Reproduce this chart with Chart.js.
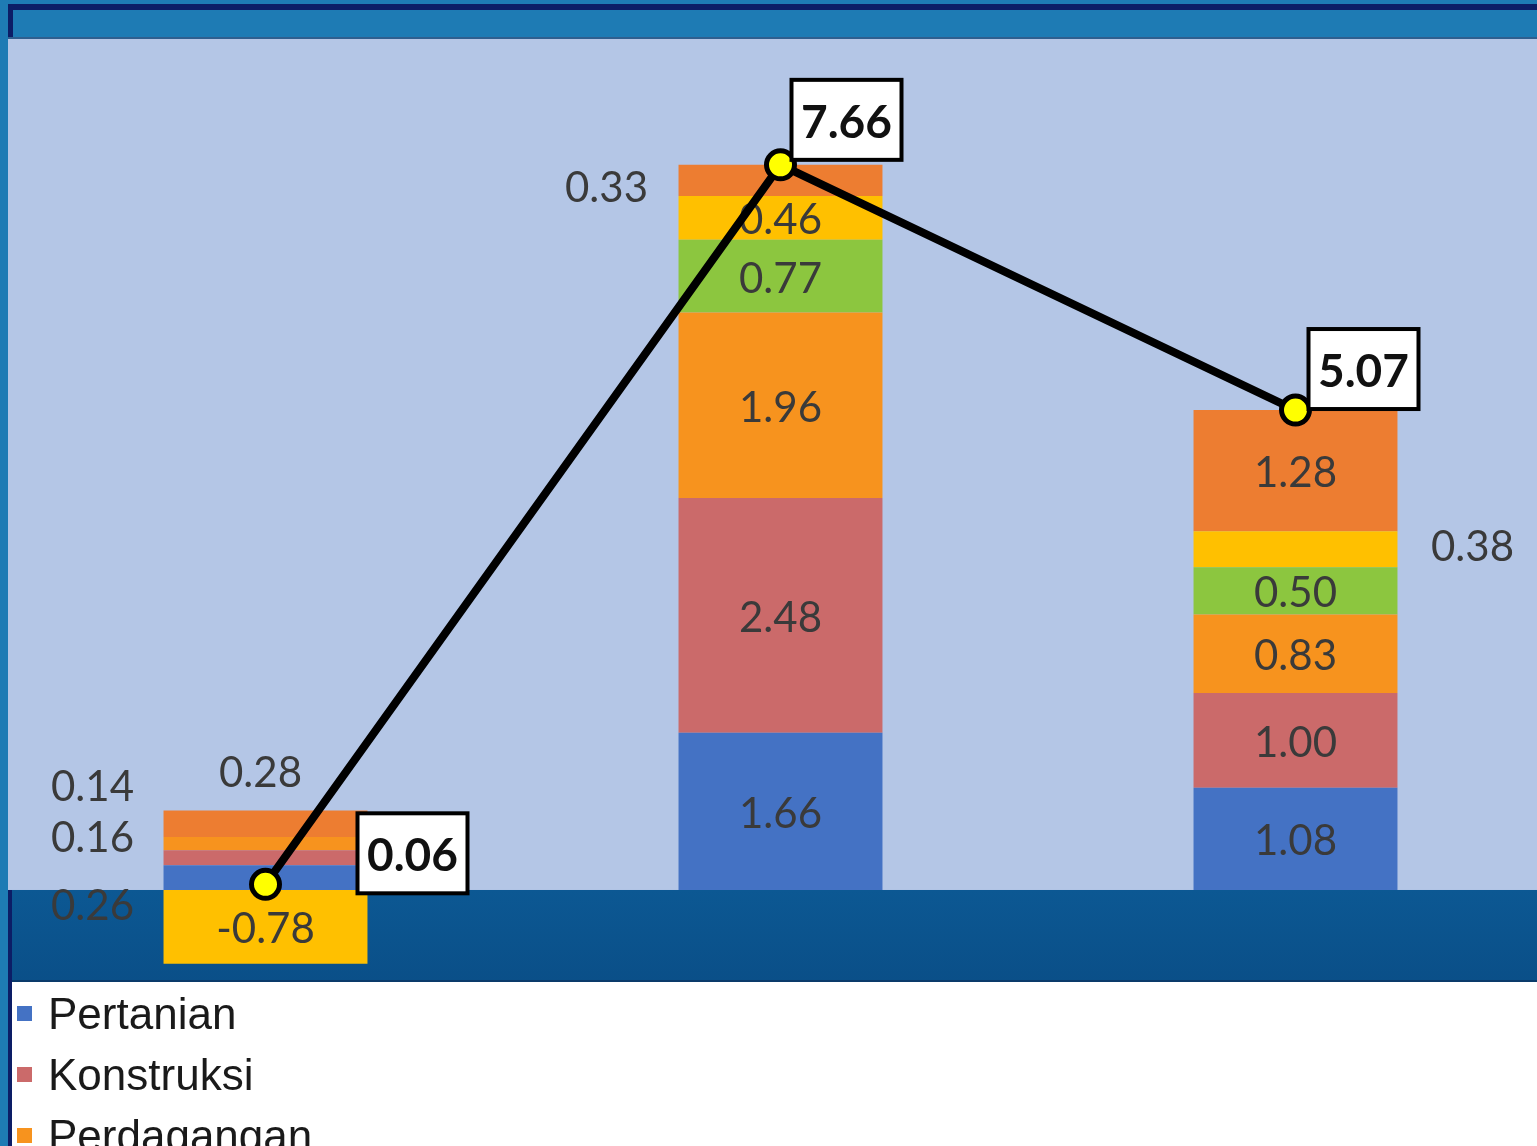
<!DOCTYPE html>
<html>
<head>
<meta charset="utf-8">
<script src="https://cdn.jsdelivr.net/npm/chart.js@4"></script>
<style>
  html, body { margin: 0; padding: 0; width: 1537px; height: 1146px; overflow: hidden; background: #ffffff; }
  #wrap { position: absolute; left: 0; top: 0; width: 1560px; height: 1146px; }
  canvas { position: absolute; left: 0; top: 0; }
  .frame { position: absolute; z-index: 2; }
  #legend { position: absolute; left: 17px; top: 983px; z-index: 3; font-family: "Liberation Sans", Arial, sans-serif; font-size: 44px; color: #1a1a1a; }
  #legend .item { height: 61px; display: flex; align-items: center; }
  #legend .sw { width: 15px; height: 15px; margin-right: 16px; }
</style>
</head>
<body>
<div id="wrap"><canvas id="c" width="1560" height="1146"></canvas></div>
<div class="frame" style="left:0;top:0;width:8px;height:1146px;background:#1e7bb4"></div>
<div class="frame" style="left:8px;top:0;width:1560px;height:38px;background:#1e7bb4"></div>
<div class="frame" style="left:8px;top:4px;width:1560px;height:6px;background:#0c1d66"></div>
<div class="frame" style="left:8px;top:4px;width:5px;height:34px;background:#0c1d66"></div>
<div class="frame" style="left:8px;top:37px;width:1560px;height:2px;background:#2f5f8f"></div>
<div class="frame" style="left:8px;top:890px;width:4px;height:256px;background:#0c1d66"></div>
<div id="legend"></div>
<script>
const categories = ["I", "II", "III"];
const seriesNames = ["Pertanian", "Konstruksi", "Perdagangan", "Industri Pengolahan", "Pertambangan", "Lainnya"];
const pertanian   = [0.26, 1.66, 1.08];
const konstruksi  = [0.16, 2.48, 1.00];
const perdagangan = [0.14, 1.96, 0.83];
const industri    = [0.00, 0.77, 0.50];
const tambang     = [-0.78, 0.46, 0.38];
const lainnya     = [0.28, 0.33, 1.28];
const totals      = [0.06, 7.66, 5.07];

const seriesValues = [pertanian, konstruksi, perdagangan, industri, tambang, lainnya];
const seriesColors = ["#4472c4", "#cb6a6a", "#f7931e", "#8cc63f", "#ffc000", "#ed7d31"];

// label placement overrides (offset from segment centre) for small segments
const labelShift = {
  "0-0": {dx: -173, dy: 26},
  "1-0": {dx: -173, dy: -22},
  "2-0": {dx: -173, dy: -59},
  "5-0": {dx: -5, dy: -53},
  "5-1": {dx: -174, dy: 5},
  "4-2": {dx: 177, dy: -5}
};
// total box offsets from the point: left edge dx, bottom edge dy
const boxShift = [{dx: 92, dy: 9}, {dx: 11, dy: -5}, {dx: 13, dy: -1}];

const datasets = seriesValues.map((vals, i) => ({
  type: "bar",
  label: seriesNames[i],
  data: vals,
  backgroundColor: seriesColors[i],
  borderWidth: 0,
  stack: "s",
  order: 1,
  categoryPercentage: 1,
  barPercentage: 0.396
}));
datasets.push({
  type: "line",
  label: "Total",
  data: totals,
  borderColor: "#000000",
  borderWidth: 8,
  pointRadius: 14,
  pointBorderWidth: 5,
  pointBackgroundColor: "#ffff00",
  pointBorderColor: "#000000",
  stack: "total",
  order: 0,
  tension: 0
});

const bgPlugin = {
  id: "bg",
  beforeDraw(chart) {
    const {ctx, chartArea: a, scales: {y}} = chart;
    const y0 = y.getPixelForValue(0);
    ctx.save();
    ctx.fillStyle = "#b4c6e6";
    ctx.fillRect(a.left, a.top, a.right - a.left, y0 - a.top);
    const g = ctx.createLinearGradient(0, y0, 0, a.bottom);
    g.addColorStop(0, "#0c5893");
    g.addColorStop(1, "#0a4f88");
    ctx.fillStyle = g;
    ctx.fillRect(a.left, y0, a.right - a.left, a.bottom - y0);
    ctx.fillStyle = "#0a3a6a";
    ctx.fillRect(a.left, a.bottom - 2, a.right - a.left, 2);
    ctx.restore();
  }
};

const labelPlugin = {
  id: "labels",
  beforeDatasetDraw(chart, args) {
    if (args.index !== seriesValues.length) return;
    const ctx = chart.ctx;
    ctx.save();
    ctx.font = "42px Lato, 'Open Sans', sans-serif";
    ctx.fillStyle = "#3a3a3a";
    ctx.textAlign = "center";
    ctx.textBaseline = "middle";
    seriesValues.forEach((vals, di) => {
      const meta = chart.getDatasetMeta(di);
      meta.data.forEach((bar, i) => {
        const v = vals[i];
        if (v === 0) return;
        const cy = (bar.y + bar.base) / 2 + 3;
        const s = labelShift[di + "-" + i] || {dx: 0, dy: 0};
        ctx.fillText(v.toFixed(2), bar.x + s.dx, cy + s.dy);
      });
    });
    ctx.restore();
  },
  afterDatasetsDraw(chart) {
    const ctx = chart.ctx;
    const meta = chart.getDatasetMeta(seriesValues.length);
    ctx.save();
    ctx.font = "bold 46px Lato, 'Open Sans', sans-serif";
    ctx.textAlign = "center";
    ctx.textBaseline = "middle";
    meta.data.forEach((pt, i) => {
      const s = boxShift[i];
      const w = 110, h = 80;
      const x = pt.x + s.dx, yb = pt.y + s.dy;
      ctx.fillStyle = "#ffffff";
      ctx.fillRect(x, yb - h, w, h);
      ctx.lineWidth = 4;
      ctx.strokeStyle = "#000000";
      ctx.strokeRect(x, yb - h, w, h);
      ctx.fillStyle = "#111111";
      ctx.fillText(totals[i].toFixed(2), x + w / 2, yb - h / 2 + 3);
    });
    ctx.restore();
  }
};

const chart = new Chart(document.getElementById("c"), {
  data: { labels: categories, datasets },
  options: {
    responsive: false,
    animation: false,
    devicePixelRatio: 1,
    layout: { autoPadding: false, padding: { left: 8, right: 7, top: 38, bottom: 164 } },
    plugins: { legend: { display: false }, tooltip: { enabled: false } },
    scales: {
      x: { display: false, stacked: true },
      y: { display: false, stacked: true, min: -0.972, max: 9 }
    }
  },
  plugins: [bgPlugin, labelPlugin]
});

const legendEl = document.getElementById("legend");
seriesNames.forEach((n, i) => {
  const d = document.createElement("div");
  d.className = "item";
  d.innerHTML = '<span class="sw" style="background:' + seriesColors[i] + '"></span><span>' + n + '</span>';
  legendEl.appendChild(d);
});
</script>
</body>
</html>
